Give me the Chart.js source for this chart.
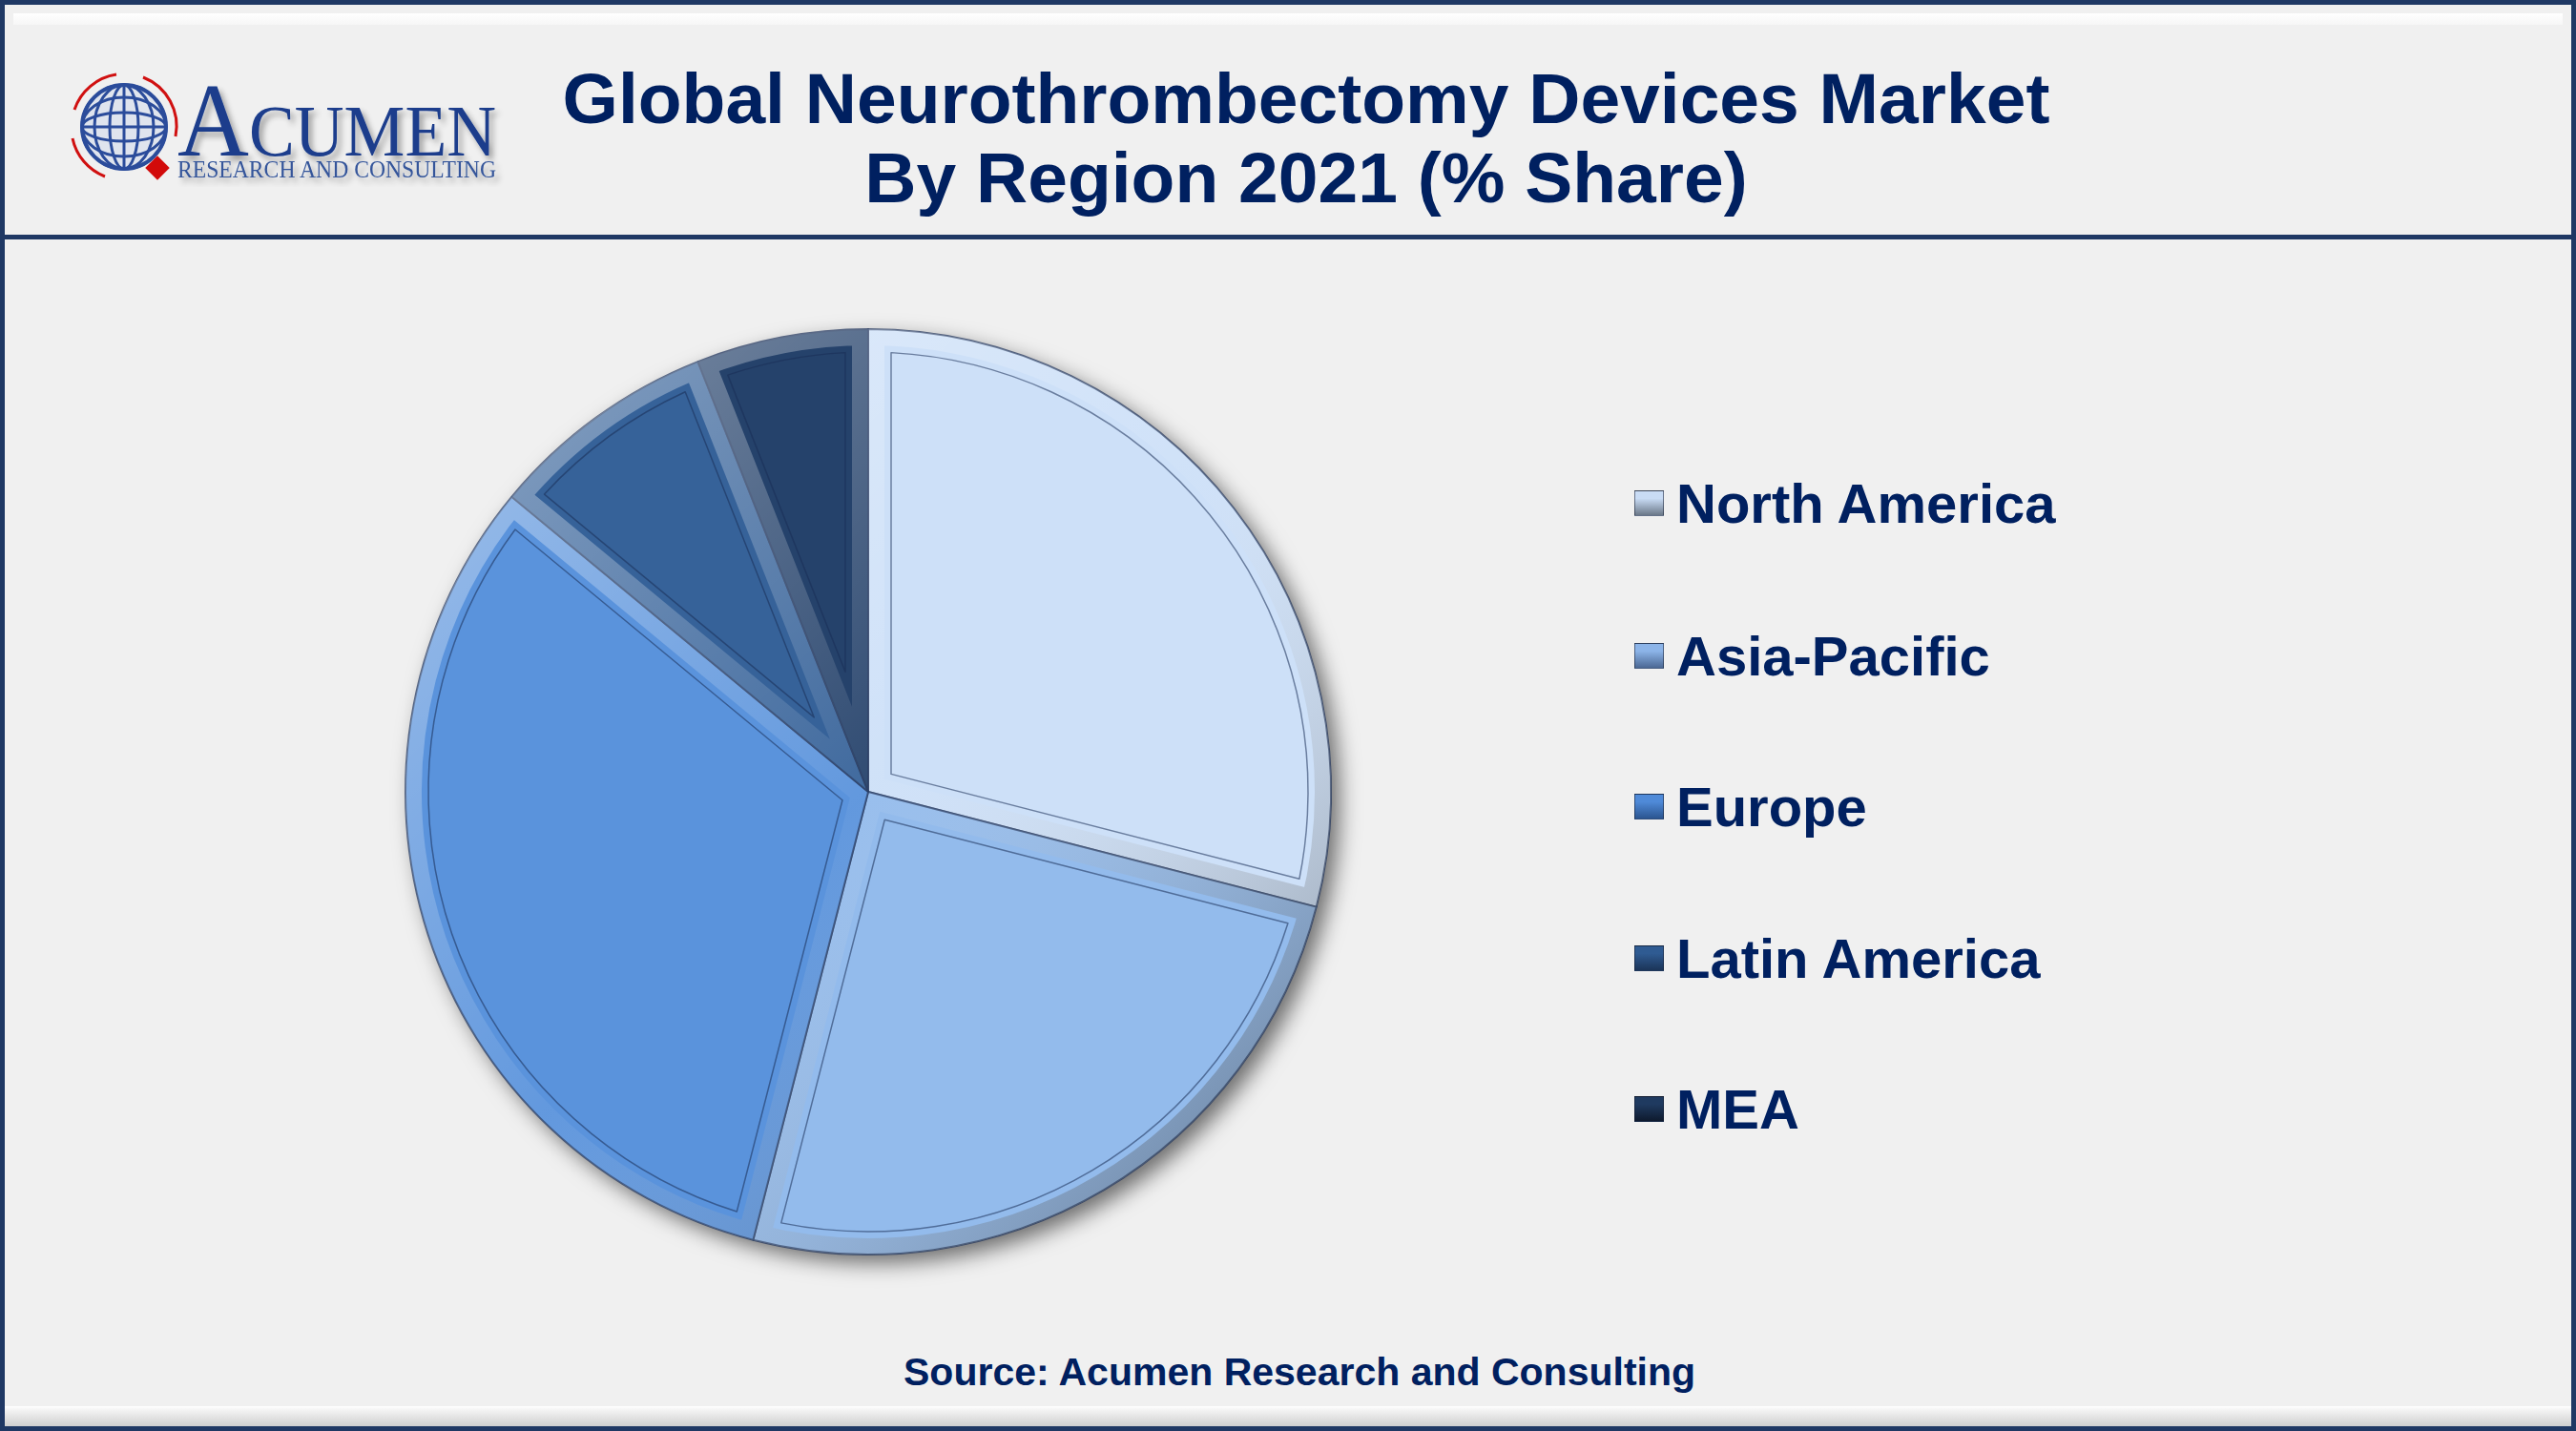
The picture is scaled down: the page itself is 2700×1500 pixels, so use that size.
<!DOCTYPE html>
<html>
<head>
<meta charset="utf-8">
<script src="https://cdn.jsdelivr.net/npm/chart.js@4.4.0/dist/chart.umd.min.js"></script>
<style>
  html, body { margin: 0; padding: 0; }
  body {
    width: 2700px; height: 1500px; position: relative; overflow: hidden;
    background: #f0f0f0; font-family: "Liberation Sans", Arial, sans-serif;
  }
  #frame { position: absolute; left: 0; top: 0; width: 2700px; height: 1500px;
    border: 5px solid #1f3864; box-sizing: border-box; z-index: 5; pointer-events: none; }
  #topShine { position: absolute; left: 14px; top: 14px; width: 2672px; height: 12px;
    background: linear-gradient(#ffffff, #f6f6f6); }
  #rule { position: absolute; left: 0; top: 246px; width: 2700px; height: 5px; background: #1f3864; }
  #bottomBand { position: absolute; left: 5px; top: 1474px; width: 2690px; height: 21px;
    background: linear-gradient(#ffffff 0%, #f3f3f3 20%, #cfcfcf 100%); }
  .title { position: absolute; left: 0; width: 2738px; text-align: center; color: #002060;
    font-weight: bold; font-size: 75px; line-height: 75px; white-space: nowrap; }
  #logo { position: absolute; left: 70px; top: 66px; }
  #chartBox { position: absolute; left: 360px; top: 280px; width: 1100px; height: 1100px; }
  #legend { position: absolute; left: 1713px; top: 0; }
  .item { position: absolute; left: 0; white-space: nowrap; }
  .swatch { position: absolute; left: 0; width: 31px; height: 27px; box-sizing: border-box;
    border: 1px solid rgba(20,30,50,0.55); }
  .label { position: absolute; left: 44px; top: 0; color: #002060; font-weight: bold;
    font-size: 58px; line-height: 58px; }
  #source { position: absolute; left: 0; top: 1418px; width: 2724px; text-align: center;
    color: #002060; font-weight: bold; font-size: 41px; line-height: 41px; }
</style>
</head>
<body>
<div id="topShine"></div>
<div id="rule"></div>
<div id="bottomBand"></div>

<svg id="logo" width="470" height="130" viewBox="0 0 470 130">
  <defs>
    <filter id="soft" x="-10%" y="-10%" width="130%" height="140%">
      <feGaussianBlur in="SourceAlpha" stdDeviation="3"/>
      <feOffset dx="4" dy="5"/>
      <feComponentTransfer><feFuncA type="linear" slope="0.35"/></feComponentTransfer>
      <feMerge><feMergeNode/><feMergeNode in="SourceGraphic"/></feMerge>
    </filter>
  </defs>
  <g transform="translate(60,67)" fill="none" stroke="#2b4c9b" stroke-width="3">
    <circle r="44" fill="#dfe4ee"/>
    <ellipse rx="44" ry="15"/>
    <ellipse rx="44" ry="31"/>
    <line x1="-44" y1="0" x2="44" y2="0"/>
    <ellipse rx="15" ry="44"/>
    <ellipse rx="31" ry="44"/>
    <line x1="0" y1="-44" x2="0" y2="44"/>
    <circle r="44" stroke-width="4"/>
    <path d="M -52 -18 A 55 55 0 0 1 -8 -55" stroke="#d01010" stroke-width="3"/>
    <path d="M 20 -52 A 55 55 0 0 1 54 10" stroke="#d01010" stroke-width="3"/>
    <path d="M -20 52 A 55 55 0 0 1 -54 12" stroke="#d01010" stroke-width="3"/>
    <rect x="26" y="34" width="18" height="18" fill="#d20a0a" stroke="none" transform="rotate(45 35 43)"/>
  </g>
  <g filter="url(#soft)">
    <text x="116" y="97" font-family="Liberation Serif, serif" fill="#1b3d8c" textLength="334" lengthAdjust="spacingAndGlyphs"><tspan font-size="110">A</tspan><tspan font-size="76">CUMEN</tspan></text>
    <text x="116" y="120" font-family="Liberation Serif, serif" font-size="25" fill="#34559a" textLength="334" lengthAdjust="spacingAndGlyphs">RESEARCH AND CONSULTING</text>
  </g>
</svg>

<div class="title" style="top:66px">Global Neurothrombectomy Devices Market</div>
<div class="title" style="top:149px">By Region 2021 (% Share)</div>

<div id="chartBox"><canvas id="pie" width="1100" height="1100"></canvas></div>
<div id="legend"></div>

<div id="source">Source: Acumen Research and Consulting</div>
<div id="frame"></div>

<script>
const regions = ["North America", "Asia-Pacific", "Europe", "Latin America", "MEA"];
const shares = [29, 25, 32, 8, 6];
const sliceColors = ["#cde0f8", "#93bbec", "#5a93dc", "#366299", "#25426b"];
const swatchTop = ["#c9dcf5", "#8cb4e8", "#4f8ad8", "#2f5b92", "#1f3a60"];
const swatchBottom = ["#6b7888", "#4b6894", "#2b5590", "#1b3458", "#0e1a2e"];

// legend rows
const legendRows = [499, 659, 817, 976, 1134];
const legend = document.getElementById("legend");
regions.forEach((name, i) => {
  const row = document.createElement("div");
  row.className = "item";
  row.style.top = legendRows[i] + "px";
  row.innerHTML = '<div class="swatch" style="top:15px;background:linear-gradient(' +
    swatchTop[i] + ' 0%,' + swatchTop[i] + ' 30%,' + swatchBottom[i] + ' 100%)"></div>' +
    '<div class="label">' + name + '</div>';
  legend.appendChild(row);
});

// soft drop shadow under the whole pie
const pieShadow = {
  id: "pieShadow",
  beforeDatasetsDraw(chart) {
    const arc = chart.getDatasetMeta(0).data[0];
    if (!arc) return;
    const { x, y, outerRadius } = arc.getProps(["x", "y", "outerRadius"], true);
    const ctx = chart.ctx;
    ctx.save();
    ctx.shadowColor = "rgba(0,0,0,0.55)";
    ctx.shadowBlur = 22;
    ctx.shadowOffsetX = 9;
    ctx.shadowOffsetY = 9;
    ctx.beginPath();
    ctx.arc(x, y, outerRadius, 0, Math.PI * 2);
    ctx.fillStyle = "#f0f0f0";
    ctx.fill();
    ctx.restore();
  }
};

// bevel rim + inset line on each slice
const bevel = {
  id: "bevel",
  afterDatasetsDraw(chart) {
    const ctx = chart.ctx;
    chart.getDatasetMeta(0).data.forEach(arc => {
      const { x, y, startAngle, endAngle, outerRadius } =
        arc.getProps(["x", "y", "startAngle", "endAngle", "outerRadius"], true);
      const r = outerRadius;
      const slice = new Path2D();
      slice.moveTo(x, y);
      slice.arc(x, y, r, startAngle, endAngle);
      slice.closePath();

      ctx.save();
      ctx.clip(slice);
      const g = ctx.createLinearGradient(x - r, y - r, x + r, y + r);
      g.addColorStop(0, "rgba(255,255,255,0.45)");
      g.addColorStop(0.5, "rgba(255,255,255,0.05)");
      g.addColorStop(1, "rgba(0,0,0,0.45)");
      ctx.lineWidth = 34;
      ctx.lineJoin = "round";
      ctx.strokeStyle = g;
      ctx.stroke(slice);

      // inset outline
      const d = 24;
      const half = (endAngle - startAngle) / 2;
      const mid = startAngle + half;
      const apex = d / Math.sin(half);
      const ri = r - d;
      const off = Math.asin(d / ri);
      ctx.beginPath();
      ctx.moveTo(x + apex * Math.cos(mid), y + apex * Math.sin(mid));
      ctx.arc(x, y, ri, startAngle + off, endAngle - off);
      ctx.closePath();
      ctx.lineWidth = 1.5;
      ctx.strokeStyle = "rgba(25,45,85,0.55)";
      ctx.stroke();
      ctx.restore();
    });
  }
};

new Chart(document.getElementById("pie").getContext("2d"), {
  type: "pie",
  data: {
    labels: regions,
    datasets: [{
      data: shares,
      backgroundColor: sliceColors,
      borderColor: "rgba(30,50,90,0.7)",
      borderWidth: 2
    }]
  },
  options: {
    responsive: false,
    devicePixelRatio: 1,
    animation: false,
    layout: { padding: 64 },
    plugins: {
      legend: { display: false },
      tooltip: { enabled: false }
    }
  },
  plugins: [pieShadow, bevel]
});
</script>
</body>
</html>
